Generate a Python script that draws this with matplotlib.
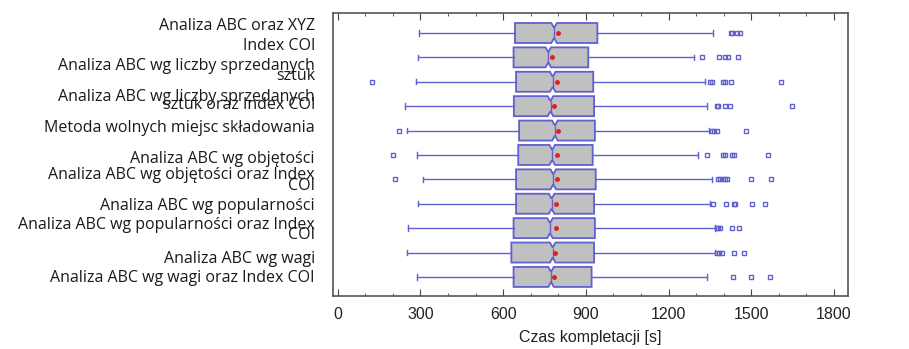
import matplotlib.pyplot as plt
from matplotlib.ticker import MultipleLocator
from matplotlib.transforms import ScaledTranslation

metody = [
    "Analiza ABC oraz XYZ",
    "Index COI",
    "Analiza ABC wg liczby sprzedanych\nsztuk",
    "Analiza ABC wg liczby sprzedanych\nsztuk oraz Index COI",
    "Metoda wolnych miejsc składowania",
    "Analiza ABC wg objętości",
    "Analiza ABC wg objętości oraz Index\nCOI",
    "Analiza ABC wg popularności",
    "Analiza ABC wg popularności oraz Index\nCOI",
    "Analiza ABC wg wagi",
    "Analiza ABC wg wagi oraz Index COI",
]

whislo = [295, 292, 283, 244, 250, 289, 308, 290, 256, 250, 289]
q1 = [643, 638, 647, 639, 658, 655, 647, 647, 638, 630, 638]
mediana = [785, 764, 780, 772, 788, 778, 782, 776, 770, 780, 774]
q3 = [942, 909, 927, 930, 933, 925, 936, 930, 933, 930, 921]
whishi = [1362, 1292, 1332, 1338, 1347, 1306, 1359, 1350, 1368, 1368, 1338]
srednia = [800, 778, 794, 786, 800, 794, 797, 792, 792, 789, 786]
ci_lo = [775, 754, 770, 762, 778, 768, 772, 766, 760, 770, 764]
ci_hi = [795, 774, 790, 782, 798, 788, 792, 786, 780, 790, 784]
odstajace = [
    [1425, 1432, 1450, 1458],
    [1320, 1383, 1405, 1415, 1453],
    [124, 1350, 1358, 1396, 1405, 1426, 1607],
    [1375, 1381, 1405, 1423, 1647],
    [222, 1356, 1365, 1375, 1481],
    [202, 1338, 1399, 1405, 1431, 1438, 1560],
    [209, 1378, 1386, 1396, 1405, 1413, 1498, 1572],
    [1362, 1407, 1437, 1441, 1501, 1550],
    [1375, 1381, 1386, 1431, 1457],
    [1375, 1384, 1393, 1437, 1474],
    [1435, 1498, 1568],
]

niebieski = "#6060d0"

stats = []
for i in range(len(metody)):
    stats.append(dict(med=mediana[i], q1=q1[i], q3=q3[i], whislo=whislo[i],
                      whishi=whishi[i], mean=srednia[i], fliers=odstajace[i],
                      cilo=ci_lo[i], cihi=ci_hi[i], label=metody[i]))

fig = plt.figure(figsize=(9.09, 3.49), dpi=100)
ax = fig.add_axes([0.3663, 0.152, 0.5666, 0.8108])

pozycje = list(range(1, len(metody) + 1))
ax.bxp(stats, positions=pozycje, widths=0.82, orientation="horizontal",
       shownotches=True, showmeans=True, patch_artist=True,
       boxprops=dict(facecolor="#c0c0c0", edgecolor=niebieski, linewidth=1.3),
       whiskerprops=dict(color=niebieski, linewidth=1.0),
       capprops=dict(color=niebieski, linewidth=1.0),
       capwidths=0.22,
       medianprops=dict(color=niebieski, linewidth=1.0),
       meanprops=dict(marker="o", markerfacecolor="#e02020", markeredgecolor="#e02020",
                      markersize=2.5),
       flierprops=dict(marker="s", markerfacecolor="none", markeredgecolor=niebieski,
                       markersize=3.5, markeredgewidth=1.0))

ax.set_xlim(-17, 1851)
ax.set_ylim(11.78, 0.18)
ax.xaxis.set_major_locator(MultipleLocator(300))
ax.xaxis.set_minor_locator(MultipleLocator(100))
ax.tick_params(axis="x", which="both", direction="in", top=True, bottom=True,
               colors="#444444", labelcolor="#222222", labelsize=11.5, pad=8)
ax.tick_params(axis="x", which="major", length=5)
ax.tick_params(axis="x", which="minor", length=2.5)
ax.tick_params(axis="y", length=0, pad=13)
for lab in ax.get_xticklabels():
    lab.set_family("Liberation Sans")

ax.set_xlabel("Czas kompletacji [s]", fontsize=11.5, family="Liberation Sans",
              color="#222222", labelpad=6)

for s in ax.spines.values():
    s.set_color("#555555")
    s.set_linewidth(1.2)

# przesunięcia etykiet jak w oryginale (w pikselach, w górę dodatnie)
przes = [9, 13, 10, 3, 5, -2, -2, 0, -3, -4, 1]
odstep = [1.2, 1.2, 0.52, 0.33, 1.2, 1.2, 0.52, 1.2, 0.52, 1.2, 1.2]
ax.set_yticks(pozycje)
ax.set_yticklabels(metody)
for lab, dy, ls in zip(ax.get_yticklabels(), przes, odstep):
    lab.set_family("Open Sans")
    lab.set_fontsize(11.5)
    lab.set_color("#1a1a1a")
    lab.set_multialignment("right")
    lab.set_linespacing(ls)
    lab.set_transform(lab.get_transform() + ScaledTranslation(0, dy / 100, fig.dpi_scale_trans))

fig.savefig("out.png", dpi=100)
